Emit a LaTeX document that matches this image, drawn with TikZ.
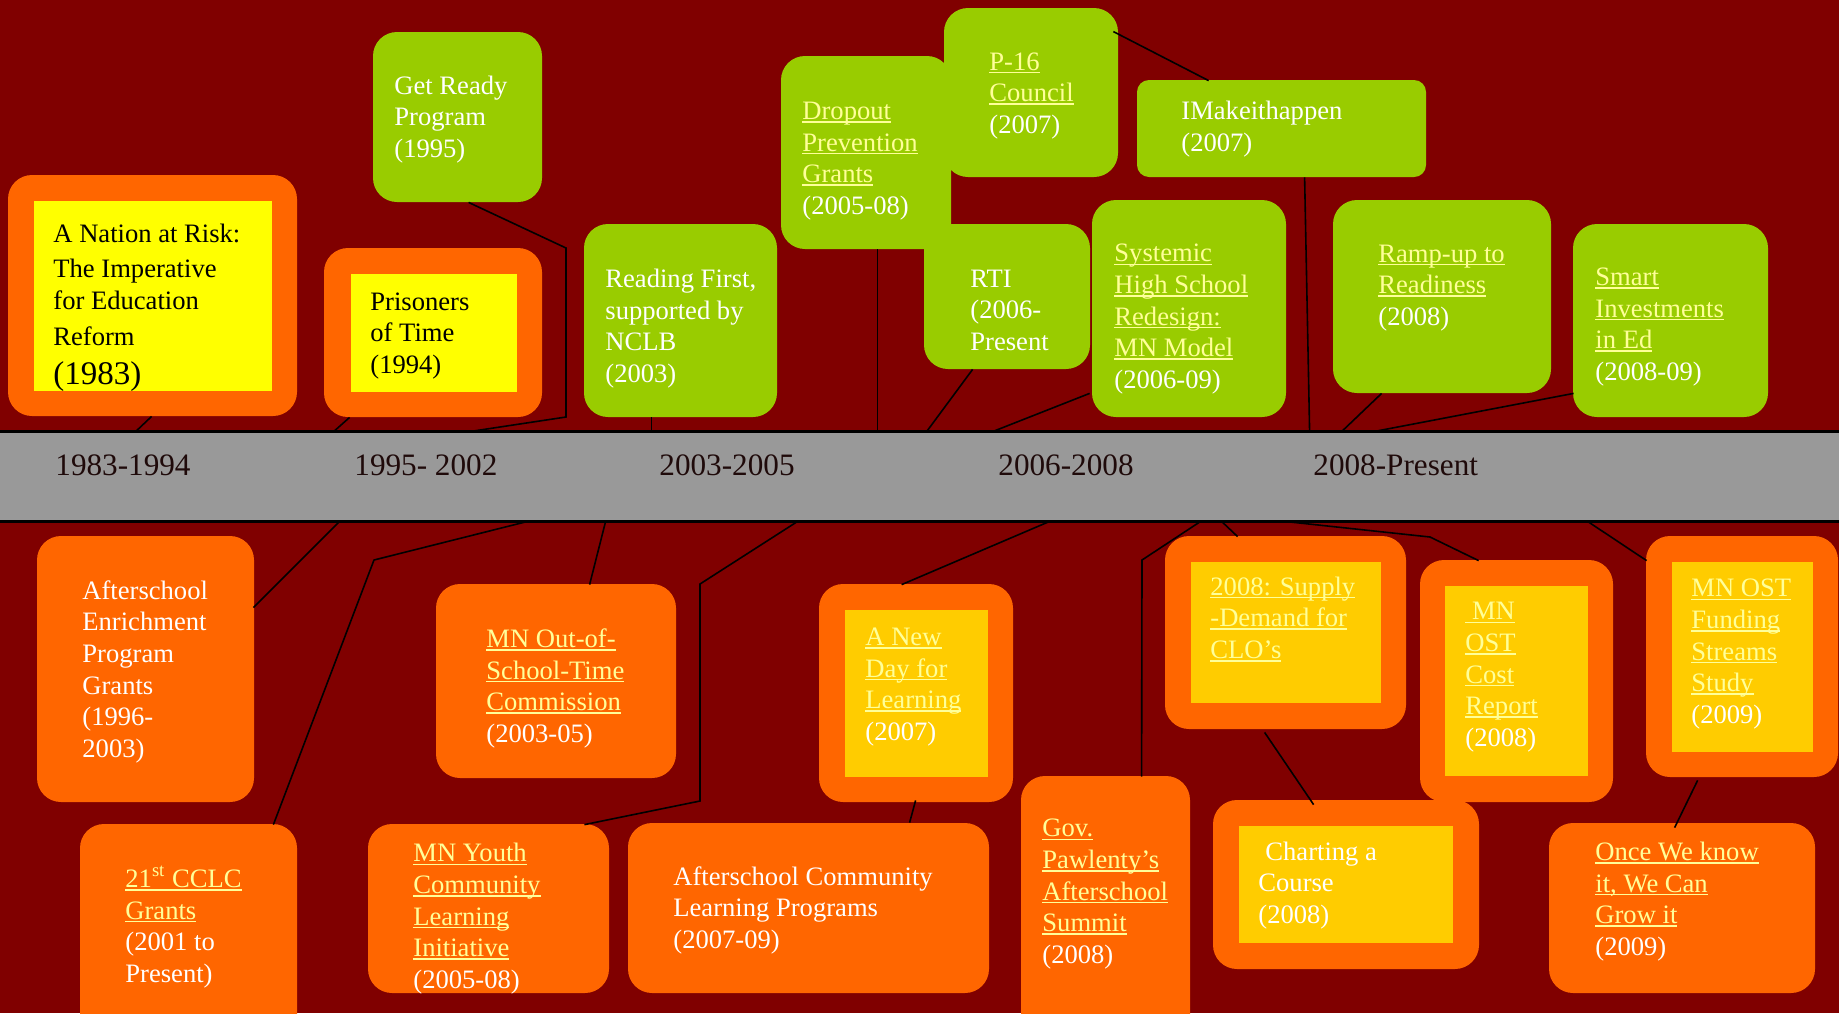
\documentclass[tikz,border=0pt]{standalone}
\usepackage{fontspec}
\setmainfont{Liberation Serif}
\usetikzlibrary{fit,calc}
\definecolor{bgred}{HTML}{800000}
\definecolor{lgreen}{HTML}{99CC00}
\definecolor{orng}{HTML}{FF6600}
\definecolor{ylw}{HTML}{FFFF00}
\definecolor{gold}{HTML}{FFCC00}
\definecolor{linkc}{HTML}{FFFF99}
\definecolor{bandc}{HTML}{999999}
\definecolor{bandtxt}{HTML}{1F0A0A}
\newcommand\ulx[1]{\setbox0=\hbox{#1}\rlap{\rule[-1.7pt]{\wd0}{0.8pt}}\box0}
\newcommand\lk[1]{\textcolor{linkc}{\ulx{#1}}}
\begin{document}
\begin{tikzpicture}[x=0.5pt,y=-0.5pt,
  gbox/.style={fill=lgreen, inner sep=0, rounded corners=12pt},
  obox/.style={fill=orng, inner sep=0, rounded corners=12pt},
  ybox/.style={fill=ylw, inner sep=0},
  gdbox/.style={fill=gold, inner sep=0},
  txt/.style={anchor=base west, inner sep=0, yshift=-1.1pt, align=left, text=white, font=\fontsize{13.3}{15.8}\selectfont},
  btxt/.style={txt, text=black},
  yrtxt/.style={anchor=base west, inner sep=0, yshift=-1.1pt, text=bandtxt, font=\fontsize{15.6}{18}\selectfont},
  con/.style={draw=black, line width=0.8pt}]
\useasboundingbox (0,0) rectangle (1839,1013);
\fill[bgred] (0,0) rectangle (1839,1013);
% band
\node[fit={(0,432)(1839,521)}, fill=bandc, inner sep=0] (band) {};
\draw[line width=1.2pt] (band.north west) -- (band.north east);
\draw[line width=1.2pt] (band.south west) -- (band.south east);
% top boxes
\node[obox, fit={(8,175)(297,416)}] (nationO) {};
\node[ybox, fit={(34,201)(272,391)}] (nationI) {};
\node[obox, fit={(324,248)(542,417)}] (prisO) {};
\node[ybox, fit={(351,274)(517,392)}] (prisI) {};
\node[gbox, fit={(373,32)(542,202)}] (getready) {};
\node[gbox, fit={(584,224)(777,417)}] (reading) {};
\node[gbox, fit={(781,56)(951,249)}] (dropout) {};
\node[gbox, fit={(924,224)(1090,369)}] (rti) {};
\node[gbox, fit={(944,8)(1118,177)}] (p16) {};
\node[gbox, rounded corners=6pt, fit={(1137,80)(1426,177)}] (imake) {};
\node[gbox, fit={(1092,200)(1286,417)}] (systemic) {};
\node[gbox, fit={(1333,200)(1551,393)}] (ramp) {};
\node[gbox, fit={(1573,224)(1768,417)}] (smart) {};
% bottom boxes
\node[obox, fit={(37,536)(254,802)}] (aenrich) {};
\node[obox, fit={(80,824)(297,1040)}] (cclc) {};
\node[obox, fit={(436,584)(676,778)}] (mnost) {};
\node[obox, fit={(368,824)(609,993)}] (youth) {};
\node[obox, fit={(819,584)(1013,802)}] (newdayO) {};
\node[gdbox, fit={(845,610)(988,777)}] (newdayI) {};
\node[obox, fit={(628,823)(989,993)}] (acomm) {};
\node[obox, fit={(1021,776)(1190,1040)}] (gov) {};
\node[obox, fit={(1165,536)(1406,729)}] (supplyO) {};
\node[gdbox, fit={(1191,562)(1381,703)}] (supplyI) {};
\node[obox, fit={(1213,800)(1479,969)}] (chartO) {};
\node[gdbox, fit={(1239,826)(1453,943)}] (chartI) {};
\node[obox, fit={(1420,560)(1613,802)}] (costO) {};
\node[gdbox, fit={(1445,586)(1588,776)}] (costI) {};
\node[obox, fit={(1646,536)(1838,777)}] (fundO) {};
\node[gdbox, fit={(1672,562)(1813,752)}] (fundI) {};
\node[obox, fit={(1549,823)(1815,993)}] (once) {};
% connectors top
\draw[con] ($(nationO.south west)+(144,0)$) -- ($(band.north west)+(136,0)$);
\draw[con] ($(prisO.south west)+(26,0)$) -- ($(band.north west)+(334,0)$);
\coordinate (grA) at (566,248);
\coordinate (grB) at (566,417);
\draw[con] ($(getready.south west)+(96,0)$) -- (grA) -- (grB) -- ($(band.north west)+(470,0)$);
\draw[con] ($(reading.south west)+(68,0)$) -- ($(band.north west)+(652,0)$);
\draw[con] ($(dropout.south west)+(97,0)$) -- ($(band.north west)+(878,0)$);
\draw[con] ($(p16.north east)+(-5,24)$) -- ($(imake.north west)+(72,1)$);
\draw[con] ($(rti.south west)+(49,0)$) -- ($(band.north west)+(927,0)$);
\draw[con] ($(systemic.south west)+(-2,-24)$) -- ($(band.north west)+(993,0)$);
\draw[con] ($(imake.south west)+(168,0)$) -- ($(band.north west)+(1310,0)$);
\draw[con] ($(ramp.south west)+(49,0)$) -- ($(band.north west)+(1342,0)$);
\draw[con] ($(smart.south west)+(1,-24)$) -- ($(band.north west)+(1374,0)$);
% connectors bottom
\draw[con] ($(aenrich.north east)+(-1,72)$) -- ($(band.south west)+(340,0)$);
\coordinate (ccA) at (374,560);
\draw[con] ($(cclc.north east)+(-24,1)$) -- (ccA) -- ($(band.south west)+(528,0)$);
\draw[con] ($(mnost.north west)+(154,1)$) -- ($(band.south west)+(606,0)$);
\coordinate (yoA) at (700,801);
\coordinate (yoB) at (700,584);
\draw[con] ($(youth.north east)+(-25,1)$) -- (yoA) -- (yoB) -- ($(band.south west)+(798,0)$);
\draw[con] ($(newdayO.north west)+(83,1)$) -- ($(band.south west)+(1050,0)$);
\draw[con] ($(newdayO.south west)+(97,-2)$) -- ($(acomm.north west)+(282,0)$);
\coordinate (goA) at (1142,560);
\draw[con] ($(gov.north west)+(121,1)$) -- (goA) -- ($(band.south west)+(1201,0)$);
\draw[con] ($(supplyO.north west)+(73,1)$) -- ($(band.south west)+(1222,0)$);
\draw[con] ($(chartO.north west)+(101,5)$) -- ($(supplyO.south west)+(100,3)$);
\coordinate (coA) at (1430,537);
\draw[con] ($(costO.north west)+(59,1)$) -- (coA) -- ($(band.south west)+(1285,0)$);
\draw[con] ($(fundO.north west)+(1,25)$) -- ($(band.south west)+(1588,0)$);
\draw[con] ($(once.north west)+(126,5)$) -- ($(fundO.south west)+(52,3)$);
% band labels
\node[yrtxt] (y1) at (55,473) {1983-1994};
\node[yrtxt] (y2) at (354,473) {1995- 2002};
\node[yrtxt] (y3) at (659,473) {2003-2005};
\node[yrtxt] (y4) at (998,473) {2006-2008};
\node[yrtxt] (y5) at (1313,473) {2008-Present};
% top texts (anchored at the baseline of the last line)
\node[btxt] (nationT) at (53,343) {A Nation at Risk:\\[1.7pt]The Imperative\\for Education\\[2.2pt]Reform};
\node[btxt, font=\fontsize{16.5}{18}\selectfont] (nationY) at (53,382) {(1983)};
\node[btxt] (prisT) at (370,371) {Prisoners\\of Time\\(1994)};
\node[txt] (grT) at (394,155) {Get Ready\\Program\\(1995)};
\node[txt] (readT) at (605,380) {Reading First,\\supported by\\NCLB\\(2003)};
\node[txt] (dropT) at (802,212) {\lk{Dropout}\\\lk{Prevention}\\\lk{Grants}\\(2005-08)};
\node[txt] (p16T) at (989,131) {\lk{P-16}\\\lk{Council}\\(2007)};
\node[txt] (imakeT) at (1181,149) {IMakeithappen\\(2007)};
\node[txt] (rtiT) at (970,348) {RTI\\(2006-\\Present};
\node[txt] (sysT) at (1114,386) {\lk{Systemic}\\\lk{High School}\\\lk{Redesign:}\\\lk{MN Model}\\(2006-09)};
\node[txt] (rampT) at (1378,323) {\lk{Ramp-up to}\\\lk{Readiness}\\(2008)};
\node[txt] (smartT) at (1595,378) {\lk{Smart}\\\lk{Investments}\\\lk{in Ed}\\(2008-09)};
% bottom texts
\node[txt] (aenT) at (82,755) {Afterschool\\Enrichment\\Program\\Grants\\(1996-\\2003)};
\node[txt] (cclcT) at (125,980) {\lk{21\textsuperscript{st} CCLC}\\\lk{Grants}\\(2001 to\\Present)};
\node[txt] (mnostT) at (486,740) {\lk{MN Out-of-}\\\lk{School-Time}\\\lk{Commission}\\(2003-05)};
\node[txt] (youthT) at (413,986) {\lk{MN Youth}\\\lk{Community}\\\lk{Learning}\\\lk{Initiative}\\(2005-08)};
\node[txt] (newdayT) at (865,738) {\lk{A New}\\\lk{Day for}\\\lk{Learning}\\(2007)};
\node[txt] (acommT) at (673,946) {Afterschool Community\\Learning Programs\\(2007-09)};
\node[txt] (govT) at (1042,961) {\lk{Gov.}\\\lk{Pawlenty’s}\\\lk{Afterschool}\\\lk{Summit}\\(2008)};
\node[txt] (supplyT) at (1210,656) {\lk{2008: Supply}\\\lk{-Demand for}\\\lk{CLO’s}};
\node[txt] (chartT) at (1258,921) {\hspace*{3.5pt}Charting a\\Course\\(2008)};
\node[txt] (costT) at (1465,744) {\lk{\hspace*{3.3pt}MN}\\\lk{OST}\\\lk{Cost}\\\lk{Report}\\(2008)};
\node[txt] (fundT) at (1691,721) {\lk{MN OST}\\\lk{Funding}\\\lk{Streams}\\\lk{Study}\\(2009)};
\node[txt] (onceT) at (1595,953) {\lk{Once We know}\\\lk{it, We Can}\\\lk{Grow it}\\(2009)};
\end{tikzpicture}
\end{document}
